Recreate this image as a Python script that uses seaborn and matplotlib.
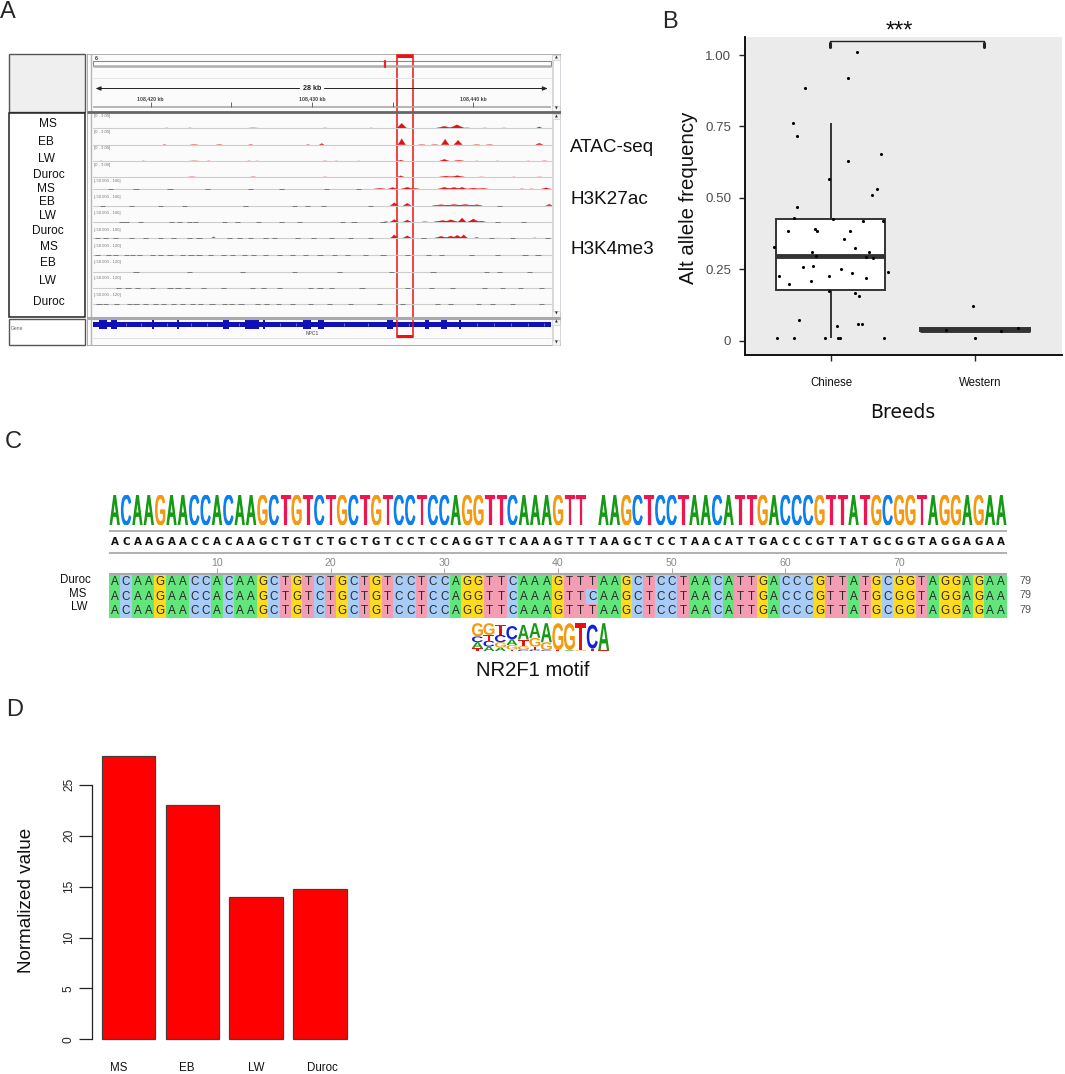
import numpy as np
import pandas as pd
import matplotlib
matplotlib.use("Agg")
import matplotlib.pyplot as plt
import seaborn as sns
from matplotlib.colors import ListedColormap
from matplotlib.font_manager import FontProperties
from matplotlib.patches import PathPatch, Rectangle
from matplotlib.textpath import TextPath
from matplotlib.transforms import Affine2D, ScaledTranslation

W, H = 1065, 1074

# panel B
chinese_offset = [.181, .120, -.181, -.262, -.236, .350, .120, -.016, .317, .282, -.236, -.255, .016, .220, .359,
                  -.111, -.100, -.299, .130, .093, -.394, .169, -.132, .262, -.106, .245, .289, -.197, -.123, .067,
                  .394, .146, -.359, -.016, .243, -.141, -.292, -.012, .169, .197, -.222, .188, .218, .042,
                  -.375, -.259, -.044, .046, .063, .368]
chinese_freq = [1.010, .919, .886, .761, .718, .653, .628, .566, .531, .510, .468, .431, .427, .420, .420,
                .392, .385, .385, .385, .355, .328, .324, .309, .309, .298, .293, .288, .259, .260, .252,
                .240, .237, .225, .226, .218, .209, .197, .173, .167, .156, .071, .060, .060, .051,
                .009, .009, .009, .009, .009, .009]
western_offset = [-.014, -.201, .183, .296, .002]
western_freq = [.123, .036, .035, .044, .009]

# panel D
breeds = ["MS", "EB", "LW", "Duroc"]
normalized = [27.82, 22.98, 14.0, 14.73]

# panel C
seq_duroc = "ACAAGAACCACAAGCTGTCTGCTGTCCTCCAGGTTCAAAGTTTAAGCTCCTAACATTGACCCGTTATGCGGTAGGAGAA"
seq_ms = "ACAAGAACCACAAGCTGTCTGCTGTCCTCCAGGTTCAAAGTTCAAGCTCCTAACATTGACCCGTTATGCGGTAGGAGAA"
seq_lw = seq_duroc
logo_gap = 42
motif_stacks = [
    [("T", .10), ("A", .20), ("C", .20), ("G", .45)],
    [("A", .15), ("C", .20), ("T", .20), ("G", .40)],
    [("A", .12), ("G", .18), ("C", .25), ("T", .35)],
    [("T", .05), ("G", .15), ("A", .20), ("C", .45)],
    [("C", .05), ("G", .12), ("T", .22), ("A", .50)],
    [("C", .05), ("T", .10), ("G", .30), ("A", .50)],
    [("C", .03), ("G", .27), ("A", .65)],
    [("T", .03), ("G", .92)],
    [("A", .03), ("G", .92)],
    [("G", .03), ("T", .92)],
    [("T", .08), ("C", .82)],
    [("T", .02), ("A", .93)],
]

# panel A, peaks are (kb from 108,420, height, half width)
atac_ms = [(.99, .5, .2), (2.43, .6, .2), (6.35, .7, .5), (10.8, .5, .3), (13.67, .5, .2), (15.56, 5, .32), (18.2, 2, .55),
           (18.98, 3.5, .5), (19.6, .8, .3), (20.7, .5, .3), (21.9, .5, .3), (24.08, 1.5, .2)]
atac_eb = [(.86, .5, .1), (2.7, .6, .25), (4.26, .6, .2), (6.2, .6, .15), (9.75, .5, .1), (10.6, 1.2, .14), (15.56, 6, .24),
           (16.8, .5, .2), (17.6, .5, .2), (18.25, 5.5, .24), (19.05, 4.5, .26), (20.2, .5, .2), (21, .5, .2), (24.08, 1.5, .22)]
atac_lw = [(-3.06, .5, .2), (-.44, .6, .15), (2.7, .7, .5), (3.6, .6, .2), (6.1, .6, .2), (6.6, .5, .2), (10.8, .6, .25),
           (11.5, .5, .2), (12.9, .5, .15), (15.5, 1.2, .25), (18.2, 2, .35), (19.1, 1, .45), (20.2, .5, .2), (21.5, .5, .2),
           (23.4, .5, .2), (24.4, .7, .3)]
atac_duroc = [(2.56, .8, .4), (6.35, .8, .3), (10.8, .5, .3), (15.5, 1.5, .25), (18.3, 1.2, .55), (19, 1.6, .55), (20.5, .5, .4),
              (22.5, .5, .2), (24.1, .5, .4)]
k27_ms = [(14.2, 1, .5), (15, 1.8, .35), (15.9, 2, .45), (16.4, 1, .35), (18.2, 2, .45), (18.8, 1.8, .55), (19.3, 2, .35),
          (20, 1.2, .55), (20.6, 1, .45), (23, .8, .2), (23.6, .7, .2), (24.5, 1.5, .35)]
k27_eb = [(15.1, 3, .25), (15.9, 2.5, .25), (18, 1, .55), (18.8, 1.2, .55), (19.5, 1.2, .55), (20.2, 1, .35), (24.7, 1.5, .2)]
k27_lw = [(14.6, .7, .15), (15.1, 2.5, .25), (15.9, 2, .25), (17, .6, .2), (18.1, 1.5, .55), (18.6, 2.2, .45), (19.3, 4, .25),
          (20, 3, .35), (20.5, 1, .25)]
k27_duroc = [(3.9, 1.5, .14), (15.1, 3.5, .25), (15.9, 2.5, .3), (18, 2, .45), (18.6, 2.2, .45), (19, 3, .35), (19.4, 3.5, .25),
             (20.2, 1, .18), (21.5, .4, .1), (23.8, .6, .2)]
k4_specks = [
    [-3.3, -2.6, -2.2, -1.5, -1.1, -.7, .1, .6, 1.2, 2.0, 2.5, 3.0, 3.7, 4.5, 5.1, 5.8, 6.4, 7.1, 8.0, 8.8, 9.6, 10.5, 11.4, 12.2, 13.3, 14.4, 15.9, 17.2, 18.0, 19.9, 21.5, 23.2, 24.0],
    [-.9, 2.4, 5.7, 8.9, 11.7, 14.9, 17.5, 20.8, 21.6, 23.5],
    [-2, -1.4, -.8, .1, 1.2, 1.7, 2.3, 3.3, 4.5, 6.3, 7, 8, 9.9, 10.5, 11.2, 13.1, 15.9, 17.4, 18.7, 20.7, 21.8, 22.9, 24.2],
    [-3.2, -2.8, -2.1, -1.3, -.9, -.3, .3, .8, 1.4, 2.0, 2.6, 3.1, 3.8, 4.6, 5.0, 5.6, 6.6, 7.2, 7.9, 8.8, 9.9, 11.1, 12.4, 14.2, 15.6, 17.8, 18.6, 20.3, 21.2, 22.4, 24.2],
]
k27_specks = [
    [-2.5, -.9, 1.2, 3.5, 6.2, 8.1, 10.9, 12.9],
    [-3, -1.2, .6, 2.1, 5.9, 8.9, 9.7, 10.7, 13.6, 21.6],
    [-1.8, -1.5, -.6, 1.3, 1.8, 2.4, 2.8, 4.6, 5.4, 6.7, 8.1, 9.2, 11.9, 12.6, 14.4, 21.5, 23.1],
    [-3.3, -2.8, -2.2, -1.2, -.3, .6, 1.4, 2.4, 3.0, 4.9, 5.5, 6.2, 7.1, 7.7, 9.1, 10.1, 11.2, 12.4, 13.6, 16.9, 21.1, 22.4, 24.6],
]
track_names = ["MS", "EB", "LW", "Duroc", "MS", "EB", "LW", "Duroc", "MS", "EB", "LW", "Duroc"]
track_ranges = ["[0 - 3.00]"] * 4 + ["[-50.000 - 100]"] * 4 + ["[-50.000 - 120]"] * 4
exon_kb = [-2.95, -2.27, .15, 1.70, 4.67, 6.28, 7.03, 9.69, 10.55, 14.83, 17.13, 18.18, 19.17]
exon_width = [.5, .4, .12, .15, .4, .9, .15, .45, .4, .4, .25, .4, .12]

sns.set_theme(style="white")
plt.rcParams["font.family"] = ["Liberation Sans", "DejaVu Sans"]
plt.rcParams["axes.unicode_minus"] = False

fig = plt.figure(figsize=(W / 100, H / 100), dpi=100, facecolor="white")


def px_axes(left, top, right, bottom, **kw):
    return fig.add_axes([left / W, 1 - bottom / H, (right - left) / W, (bottom - top) / H], **kw)


def draw_letter(ax, ch, x, y, w, h, color, weight="normal", stroke=0):
    tp = TextPath((0, 0), ch, size=1, prop=FontProperties(family="Liberation Sans", weight=weight))
    bb = tp.get_extents()
    tr = Affine2D().translate(-bb.x0, -bb.y0).scale(w / bb.width, h / bb.height).translate(x, y)
    ax.add_patch(PathPatch(tp, transform=tr + ax.transData, fc=color, ec=color, lw=stroke))


# page level furniture and labels
page = px_axes(0, 0, W, H)
page.set_xlim(0, W)
page.set_ylim(H, 0)
page.axis("off")
for txt, x, y in [("A", 8, 12), ("B", 670, 22), ("C", 13, 442), ("D", 15, 710)]:
    page.text(x, y, txt, fontsize=17, ha="center", va="center")

page.add_patch(Rectangle((8.5, 54), 76.5, 58, fc="#efefef", ec="#555555", lw=1))
page.add_patch(Rectangle((8.5, 113), 76.5, 204, fc="white", ec="#222222", lw=1.1))
page.add_patch(Rectangle((8.5, 319), 76.5, 26, fc="white", ec="#555555", lw=1))
page.text(11, 328, "Gene", fontsize=3.6, color="#666666", va="center")
name_x = [47.7, 46, 46.4, 48.5, 46.4, 47, 47.5, 47.5, 48.5, 47.7, 48, 48.5]
name_y = [124, 142, 159, 175, 189, 202, 216, 230.5, 247, 263, 281.5, 302]
for nm, x, y in zip(track_names, name_x, name_y):
    page.text(x, y, nm, fontsize=8.6, ha="center", va="center", color="#111111")
for nm, y in zip(["ATAC-seq", "H3K27ac", "H3K4me3"], [148, 199, 249]):
    page.text(570, y, nm, fontsize=13.6, va="center", color="#111111")
page.text(533, 670, "NR2F1 motif", fontsize=14.6, ha="center", va="center", color="#111111")

# panel A, x in kb, y in screen pixels
igv = px_axes(86.5, 54, 561, 346)
igv.set_xlim((86.5 - 150.6) / 16.14, (561 - 150.6) / 16.14)
igv.set_ylim(346, 54)
igv.axis("off")
kb_left, kb_right = -3.58, 24.78
igv.add_patch(Rectangle((igv.get_xlim()[0], 54), np.ptp(igv.get_xlim()), 292, fc="#fbfbfb", ec="#9a9a9a", lw=1.1))
igv.axvline(kb_left - .1, color="#b5b5b5", lw=1)
igv.hlines([112.2, 317.5, 346], igv.get_xlim()[0], igv.get_xlim()[1], colors=["#666666", "#aaaaaa", "#999999"], lw=[2, 2.2, 1])
igv.add_patch(Rectangle((kb_left, 61), kb_right - kb_left, 5, fc="white", ec="#8a8a8a", lw=.8))
igv.hlines([66.3], kb_left, kb_right, colors="#b0b0b0", lw=1.8)
igv.hlines([77.7, 106.5], kb_left, kb_right, colors=["#e0e0e0", "#aaaaaa"], lw=[.6, 1.2])
igv.plot([(385 - 150.6) / 16.14] * 2, [60.5, 67], color="#ee2222", lw=1.6)
igv.text(kb_left + .1, 58, "6", fontsize=3.8, fontweight="bold", va="center", color="#333333")
igv.annotate("", xy=(kb_left, 88.5), xytext=(9.4, 88.5), arrowprops=dict(arrowstyle="-|>,head_width=.1,head_length=.25", color="#222222", lw=.7))
igv.annotate("", xy=(kb_right, 88.5), xytext=(10.6, 88.5), arrowprops=dict(arrowstyle="-|>,head_width=.1,head_length=.25", color="#222222", lw=.7))
igv.text(10.03, 88.8, "28 kb", fontsize=5, fontweight="bold", ha="center", va="center", color="#222222")
for kb, lab in zip([0, 10, 20], ["108,420 kb", "108,430 kb", "108,440 kb"]):
    igv.text(kb, 98.7, lab, fontsize=3.7, fontweight="bold", ha="center", va="center", color="#444444")
igv.vlines([0, 5, 10, 15, 20], 102, 106.5, colors="#666666", lw=.7)

baselines = [128.3, 144.7, 161.3, 177.3, 189.3, 205.7, 222, 238.3, 255.3, 271.7, 287.7, 304]
range_y = [116, 132, 148, 165, 181, 197, 213, 230, 246, 262, 278, 295]
for base, lab, y in zip(baselines, track_ranges, range_y):
    sns.lineplot(x=[kb_left, kb_right], y=[base, base], color="#cdcdcd", lw=.8, ax=igv, legend=False)
    igv.text(kb_left + .1, y, lab, fontsize=3.1, color="#777777", va="center")

red_tracks = [atac_ms, atac_eb, atac_lw, atac_duroc, k27_ms, k27_eb, k27_lw, k27_duroc]
for base, peaks in zip(baselines, red_tracks):
    for pos, h, hw in peaks:
        alpha = 1 if h > .9 else .5
        igv.fill([pos - hw, pos - .45 * hw, pos, pos + .45 * hw, pos + hw],
                 [base, base - .5 * h, base - h, base - .5 * h, base], color="#dd1111", lw=.2, alpha=alpha)
for base, specks in zip(baselines[4:8] + baselines[8:], k27_specks + k4_specks):
    for pos in specks:
        igv.hlines(base - .1, pos - .16, pos + .16, colors="#333333", lw=.7, alpha=.55)

igv.add_patch(Rectangle((kb_left, 321.7), kb_right - kb_left, 5, fc="#1010b8", ec="none"))
for kb, wd in zip(exon_kb, exon_width):
    igv.add_patch(Rectangle((kb - wd / 2, 320), wd, 8.5, fc="#1010b8", ec="none"))
igv.vlines([-1.5, -.6, 1, 2.5, 3.5, 5.5, 8, 9, 12, 13.5, 16, 20.2, 21.3, 22.3, 23.4, 24.4], 323, 325.5, colors="#8f8fe0", lw=.5)
igv.text(10.02, 333.7, "NPC1", fontsize=3.6, color="#444444", ha="center", va="center")
igv.hlines([337.7], kb_left, kb_right, colors="#dddddd", lw=.6)

# scroll bars
sb_left = kb_right + .12
sb_w = igv.get_xlim()[1] - sb_left - .05
for top, bot in [(54.5, 111), (113.5, 316.5), (319, 345.5)]:
    igv.add_patch(Rectangle((sb_left, top), sb_w, bot - top, fc="#f3f4f6", ec="#cccccc", lw=.5))
    igv.add_patch(Rectangle((sb_left + .03, top + 5.5), sb_w - .06, bot - top - 11, fc="#ffffff", ec="#d5d9de", lw=.7))
    igv.text(sb_left + sb_w / 2, top + 2.6, "▲", fontsize=2.6, ha="center", va="center", color="#333333", family="DejaVu Sans")
    igv.text(sb_left + sb_w / 2, bot - 2.6, "▼", fontsize=2.6, ha="center", va="center", color="#333333", family="DejaVu Sans")

box_left, box_right = 15.24, 16.23
igv.add_patch(Rectangle((box_left, 55), box_right - box_left, 282, fc="none", ec="#ee1111", lw=1.1))
igv.add_patch(Rectangle((box_left, 54.5), box_right - box_left, 3.5, fc="#ee1111", ec="none"))
igv.add_patch(Rectangle((box_left, 334.5), box_right - box_left, 3.5, fc="#ee1111", ec="none"))

# panel B
ax_b = px_axes(745, 37, 1062, 355)
df_b = pd.DataFrame({"breed": ["Chinese"] * len(chinese_freq) + ["Western"] * len(western_freq),
                     "freq": chinese_freq + western_freq})
ax_b.set_facecolor("#ebebeb")
sns.boxplot(data=df_b, x="breed", y="freq", order=["Chinese", "Western"], width=.757, color="white", linecolor="#333333",
            linewidth=1.4, showfliers=False, showcaps=False, medianprops=dict(linewidth=3.5, color="#333333"), ax=ax_b)
pts_x = [o for o in chinese_offset] + [1 + o for o in western_offset]
ax_b.scatter(pts_x, chinese_freq + western_freq, s=5, color="black", lw=0, zorder=5)
ax_b.set_xlim(-.597, 1.604)
ax_b.set_ylim(-.05, 1.063)
ax_b.set_yticks([0, .25, .5, .75, 1])
ax_b.set_yticklabels(["0", "0.25", "0.50", "0.75", "1.00"], fontsize=9.6, color="#4d4d4d")
ax_b.set_xticks([0, 1])
ax_b.set_xticklabels(["Chinese", "Western"], fontsize=8.3, color="#111111")
ax_b.tick_params(axis="both", length=4, width=1, color="#222222", bottom=True, left=True)
ax_b.tick_params(axis="x", pad=12)
ax_b.tick_params(axis="y", pad=6)
ax_b.get_xticklabels()[1].set_transform(ax_b.get_xticklabels()[1].get_transform() + ScaledTranslation(5 / 100, 0, fig.dpi_scale_trans))
ax_b.set_xlabel("")
ax_b.set_ylabel("")
sns.despine(ax=ax_b)
for side in ["left", "bottom"]:
    ax_b.spines[side].set_linewidth(1.4)
    ax_b.spines[side].set_color("#111111")
ax_b.plot([-.007, -.007, 1.06, 1.06], [1.028, 1.049, 1.049, 1.028], color="#222222", lw=1, clip_on=False)
ax_b.plot([-.007, -.007], [1.028, 1.042], color="#222222", lw=2.2, clip_on=False)
ax_b.plot([1.06, 1.06], [1.028, 1.042], color="#222222", lw=2.2, clip_on=False)
page.text(899, 32, "***", fontsize=17, ha="center", va="center", color="#111111")
page.text(688, 198, "Alt allele frequency", fontsize=14.7, rotation=90, ha="center", va="center", color="#111111")
page.text(903, 413, "Breeds", fontsize=13.5, ha="center", va="center", color="#111111", family="DejaVu Sans")

# panel C logo and consensus
base_colors = {"A": "#169a16", "C": "#0a7ff0", "G": "#f59a10", "T": "#ee1650"}
ax_logo = px_axes(109, 495, 1007, 525)
ax_logo.set_xlim(0, 79)
ax_logo.set_ylim(0, 1)
ax_logo.axis("off")
for i, ch in enumerate(seq_duroc):
    if i != logo_gap:
        draw_letter(ax_logo, ch, i + .1, 0, .8, 1, base_colors[ch], stroke=.9)

ax_cons = px_axes(109, 528, 1007, 575)
ax_cons.set_xlim(0, 79)
ax_cons.set_ylim(575, 528)
ax_cons.axis("off")
ax_cons.hlines([530.7, 552.7], 0, 79, colors="#aaaaaa", lw=1.3)
for i, ch in enumerate(seq_duroc):
    ax_cons.text(i + .5, 541.7, ch, fontsize=7.4, fontweight="bold", ha="center", va="center", color="#111111", family="DejaVu Sans")
for pos in range(10, 71, 10):
    ax_cons.text(pos - .5, 562.7, str(pos), fontsize=7.6, ha="center", va="center", color="#888888")
    ax_cons.vlines(pos - .5, 568, 573, colors="#aaaaaa", lw=.7)
ax_cons.hlines([574], 0, 79, colors="#aaaaaa", lw=1.5)

# panel C alignment
seqs = [seq_duroc, seq_ms, seq_lw]
code_map = {"A": 0, "C": 1, "G": 2, "T": 3}
codes = np.array([[code_map[c] for c in s] for s in seqs])
letters = np.array([list(s) for s in seqs])
ax_aln = px_axes(109, 575, 1007, 618)
sns.heatmap(codes, annot=letters, fmt="", cbar=False, vmin=0, vmax=3, xticklabels=False, yticklabels=False,
            cmap=ListedColormap(["#62e67c", "#a6ccf7", "#ffdb1e", "#f29db2"]),
            annot_kws={"fontsize": 8.4, "color": "#2a2a2a"}, ax=ax_aln)
for t in ax_aln.texts:
    t.set_color("#2a2a2a")
for nm, x, y in [("Duroc", 75, 580), ("MS", 78, 594), ("LW", 79, 607)]:
    page.text(x, y, nm, fontsize=8.3, ha="center", va="center", color="#111111")
for y in [581, 595, 610]:
    page.text(1026, y, "79", fontsize=7.8, ha="center", va="center", color="#555555")

# panel C motif
ax_motif = px_axes(471.7, 621.7, 609.5, 651)
ax_motif.set_xlim(0, 12)
ax_motif.set_ylim(0, 1)
ax_motif.axis("off")
motif_colors = {"A": "#169a16", "C": "#1020e0", "G": "#f59a10", "T": "#e81010"}
for i, stack in enumerate(motif_stacks):
    y0 = 0
    for ch, h in stack:
        draw_letter(ax_motif, ch, i + .02, y0, .96, h, motif_colors[ch], weight="bold")
        y0 += h

# panel D
ax_d = px_axes(92.3, 745, 350, 1045)
sns.barplot(x=breeds, y=normalized, order=breeds, width=.84, color="#ff0000", saturation=1, edgecolor="#404040", linewidth=.9, ax=ax_d)
ax_d.set_xlim((92.3 - 128.7) / 63.7, (350 - 128.7) / 63.7)
ax_d.set_ylim(-5.7 / 10.18, (1039.3 - 745) / 10.18)
ax_d.patch.set_alpha(0)
sns.despine(ax=ax_d, bottom=True)
ax_d.spines["left"].set_bounds(0, 25)
ax_d.spines["left"].set_color("#222222")
ax_d.spines["left"].set_linewidth(.9)
ax_d.set_yticks([0, 5, 10, 15, 20, 25])
ax_d.set_yticklabels(["0", "5", "10", "15", "20", "25"], rotation=90, va="center", fontsize=8.6, color="#222222")
ax_d.tick_params(axis="y", length=9.5, width=.9, color="#222222", left=True, pad=3)
ax_d.tick_params(axis="x", length=0, pad=12, labelsize=8.3, labelcolor="#111111")
for lbl, dx in zip(ax_d.get_xticklabels(), [-9.7, -5.5, 0, 2.5]):
    lbl.set_transform(lbl.get_transform() + ScaledTranslation(dx / 100, 0, fig.dpi_scale_trans))
page.text(27, 900, "Normalized value", fontsize=13.6, rotation=90, ha="center", va="center", color="#111111")

fig.savefig("out.png", dpi=100)
